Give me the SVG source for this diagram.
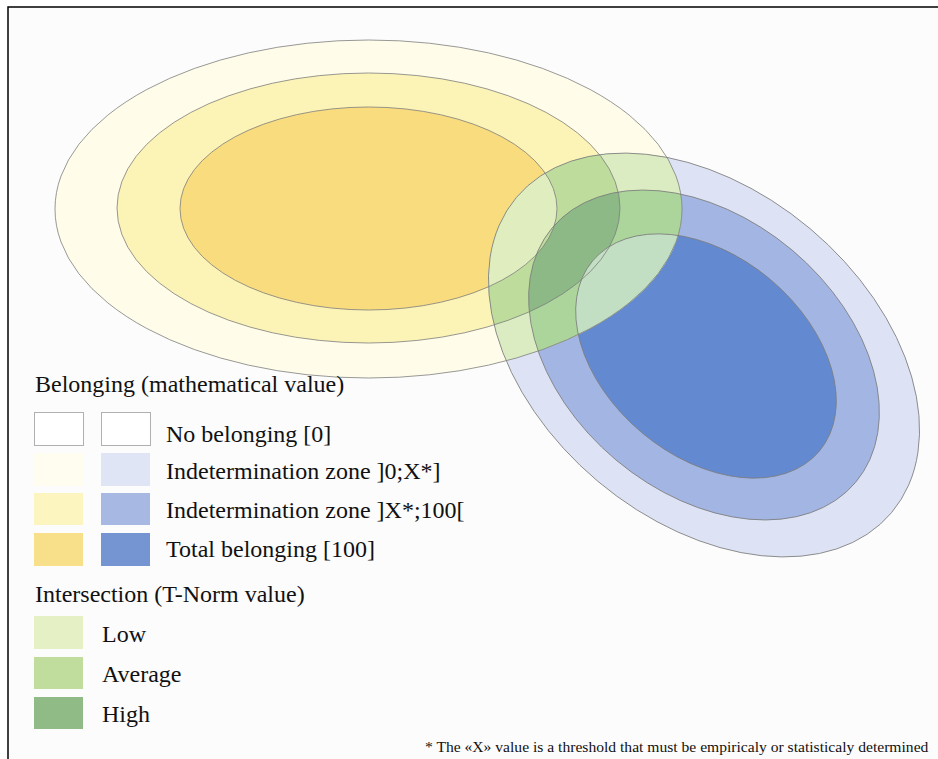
<svg xmlns="http://www.w3.org/2000/svg" width="938" height="759" viewBox="0 0 938 759">
<style>
.ol{fill:none;stroke:#7d7d7d;stroke-width:0.8}
.t{font-family:"Liberation Serif","Times New Roman",serif;font-size:24px;fill:#111}
.fn{font-family:"Liberation Serif","Times New Roman",serif;font-size:15.6px;fill:#111}
.sw{stroke:none}
</style>
<defs>
<ellipse id="y1" cx="368.5" cy="209" rx="313.5" ry="169"/>
<ellipse id="y2" cx="368.5" cy="208" rx="251.5" ry="135"/>
<ellipse id="y3" cx="368.5" cy="208.5" rx="188.5" ry="101.5"/>
<ellipse id="b1" cx="0" cy="0" rx="245" ry="165" transform="translate(704 355) rotate(40)"/>
<ellipse id="b2" cx="0" cy="0" rx="198" ry="137" transform="translate(704 355) rotate(40)"/>
<ellipse id="b3" cx="0" cy="0" rx="148" ry="100" transform="translate(706 356) rotate(40)"/>
<clipPath id="cb1"><use href="#b1"/></clipPath>
<clipPath id="cb2"><use href="#b2"/></clipPath>
<clipPath id="cb3"><use href="#b3"/></clipPath>
</defs>
<rect width="938" height="759" fill="#ffffff"/>
<rect x="8" y="7" width="940" height="760" fill="#fcfcfc" stroke="#000" stroke-width="1.5"/>
<g id="set-yellow">
<use href="#y1" fill="#fffdea"/>
<use href="#y2" fill="#fcf3b6"/>
<use href="#y3" fill="#f9dc7e"/>
</g>
<g id="set-blue">
<use href="#b1" fill="#dde3f4"/>
<use href="#b2" fill="#a3b5e2"/>
<use href="#b3" fill="#638ad0"/>
</g>
<g id="intersection">
<g clip-path="url(#cb1)">
<use href="#y1" fill="#dcecc2"/>
<use href="#y2" fill="#bedc9c"/>
<use href="#y3" fill="#e0eebf"/>
</g>
<g clip-path="url(#cb2)">
<use href="#y1" fill="#acd59c"/>
<use href="#y2" fill="#8cb985"/>
<use href="#y3" fill="#bedc9c"/>
</g>
<g clip-path="url(#cb3)">
<use href="#y1" fill="#c3dfc3"/>
</g>
</g>
<g id="outlines">
<use href="#y1" class="ol"/>
<use href="#y2" class="ol"/>
<use href="#y3" class="ol"/>
<use href="#b1" class="ol"/>
<use href="#b2" class="ol"/>
<use href="#b3" class="ol"/>
</g>
<g id="legend-belonging">
<text class="t" x="35" y="392">Belonging (mathematical value)</text>
<rect x="34.5" y="412.5" width="49" height="33" fill="#ffffff" stroke="#b0b0b0" stroke-width="1"/>
<rect x="101.5" y="412.5" width="49" height="33" fill="#ffffff" stroke="#b0b0b0" stroke-width="1"/>
<text class="t" x="166" y="442">No belonging [0]</text>
<rect class="sw" x="34" y="453" width="49" height="33" fill="#fffdf0"/>
<rect class="sw" x="101" y="453" width="49" height="33" fill="#e0e5f5"/>
<text class="t" x="166" y="479">Indetermination zone ]0;X*]</text>
<rect class="sw" x="34" y="493" width="49" height="32" fill="#fdf5c0"/>
<rect class="sw" x="101" y="493" width="49" height="32" fill="#a7b8e2"/>
<text class="t" x="166" y="518">Indetermination zone ]X*;100[</text>
<rect class="sw" x="34" y="533" width="49" height="33" fill="#f8e08a"/>
<rect class="sw" x="101" y="533" width="49" height="33" fill="#7595d2"/>
<text class="t" x="166" y="557">Total belonging [100]</text>
</g>
<g id="legend-intersection">
<text class="t" x="35" y="602">Intersection (T-Norm value)</text>
<rect class="sw" x="34" y="616" width="49" height="33" fill="#e5f0c5"/>
<text class="t" x="102" y="642">Low</text>
<rect class="sw" x="34" y="657" width="49" height="32" fill="#c0dd9e"/>
<text class="t" x="102" y="682">Average</text>
<rect class="sw" x="34" y="697" width="49" height="32" fill="#90bb87"/>
<text class="t" x="102" y="722">High</text>
</g>
<text class="fn" x="425" y="752">* The «X» value is a threshold that must be empiricaly or statisticaly determined</text>
</svg>
